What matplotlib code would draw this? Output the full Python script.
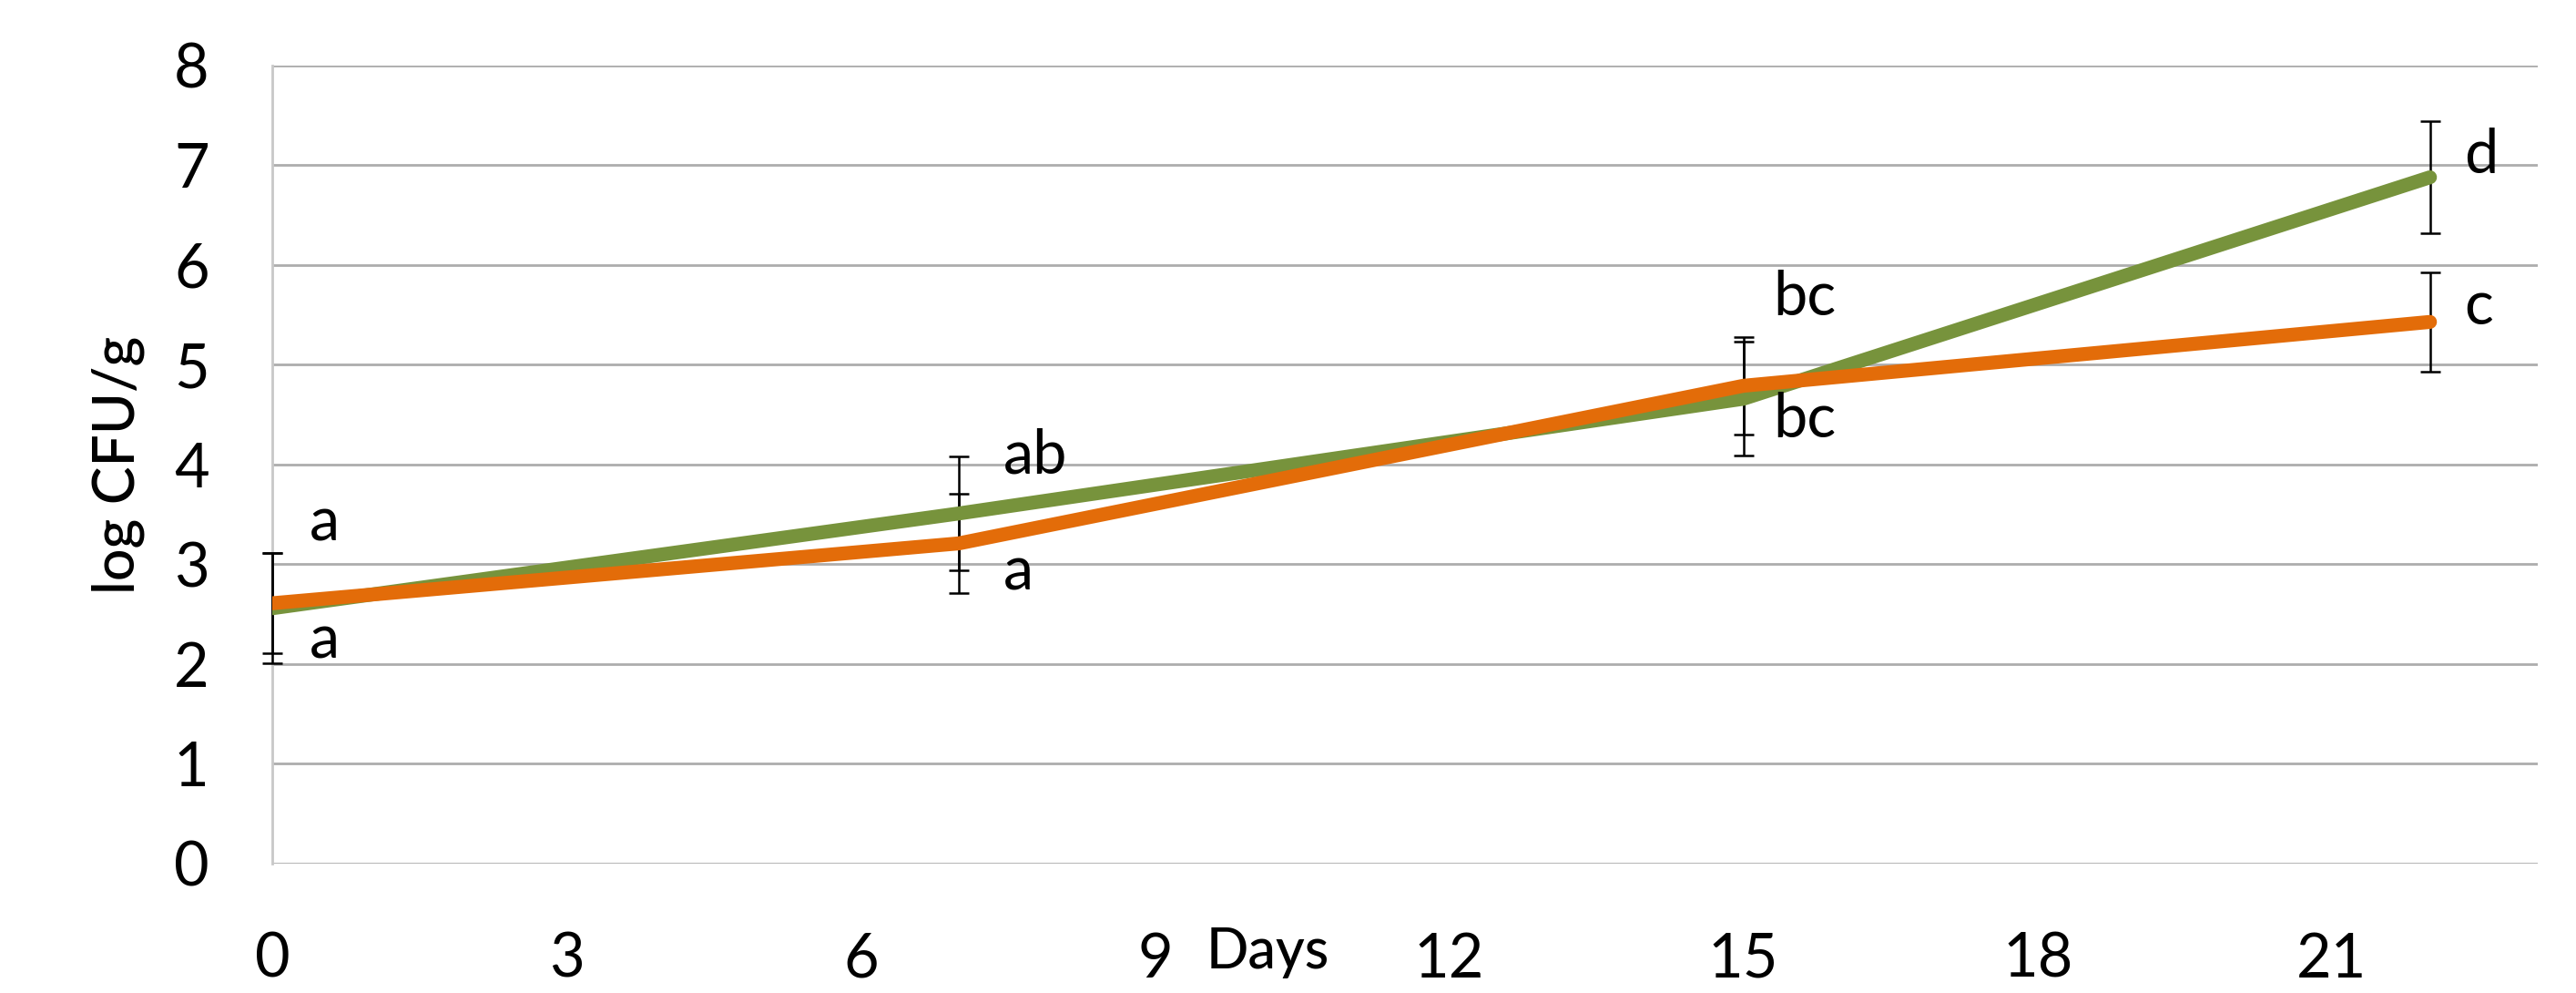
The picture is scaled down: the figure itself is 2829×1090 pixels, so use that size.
import matplotlib
matplotlib.use("Agg")
import matplotlib.pyplot as plt

days = [0, 7, 15, 22]
green_mean = [2.56, 3.51, 4.66, 6.88]
green_err = [0.55, 0.57, 0.57, 0.56]
orange_mean = [2.61, 3.21, 4.79, 5.43]
orange_err = [0.50, 0.50, 0.49, 0.50]

# significance letters: (x, baseline y, text)
letters_x = [0.38, 0.38, 7.45, 7.45, 15.3, 15.3, 22.35, 22.35]
letters_y = [3.24, 2.06, 3.91, 2.74, 5.50, 4.27, 6.92, 5.41]
letters_txt = ["a", "a", "ab", "a", "bc", "bc", "d", "c"]

xticks = [0, 3, 6, 9, 12, 15, 18, 21]
yticks = [0, 1, 2, 3, 4, 5, 6, 7, 8]

GREEN = "#77933C"
ORANGE = "#E36C09"
GRID = "#ADADAD"

plt.rcParams['font.family'] = ['Lato', 'DejaVu Sans']

fig = plt.figure(figsize=(28.29, 10.90), dpi=100)
ax = fig.add_axes([0.1057, 0.1303, 0.8795, 0.8037])

for m, e in [(green_mean, green_err), (orange_mean, orange_err)]:
    _, caps, bars = ax.errorbar(days, m, yerr=e, fmt='none', ecolor='black',
                                elinewidth=1.8, capsize=8, capthick=1.8, zorder=2.7)
    for c in caps:
        c.set_clip_on(False)
    for b in bars:
        b.set_clip_on(False)
ax.plot(days, green_mean, color=GREEN, lw=11, solid_capstyle='round',
        solid_joinstyle='round', zorder=3)
ax.plot(days, orange_mean, color=ORANGE, lw=11, solid_capstyle='round',
        solid_joinstyle='round', zorder=4)

for x, y, t in zip(letters_x, letters_y, letters_txt):
    ax.text(x, y, t, fontsize=48, ha='left', va='baseline')

ax.set_xlim(0, 23.1)
ax.set_ylim(0, 8)
ax.set_xticks(xticks)
ax.set_yticks(yticks)
ax.tick_params(axis='both', length=0, labelsize=48)
ax.tick_params(axis='y', pad=50)
ax.tick_params(axis='x', pad=54)

ax.grid(axis='y', color=GRID, lw=2)
ax.set_axisbelow(True)
for s in ['top', 'right', 'bottom']:
    ax.spines[s].set_visible(False)
ax.spines['left'].set_color('#C8C8C8')
ax.spines['left'].set_linewidth(2)

ax.set_xlabel("Days", fontsize=44, fontweight='medium')
ax.xaxis.set_label_coords(10.15 / 23.1, -0.131)
ax.xaxis.label.set_va('baseline')
ax.set_ylabel("log CFU/g", fontsize=45, fontweight='medium')
ax.yaxis.set_label_coords(-0.068, 0.5)
ax.yaxis.label.set_va('center')

fig.savefig("out.png", dpi=100)
